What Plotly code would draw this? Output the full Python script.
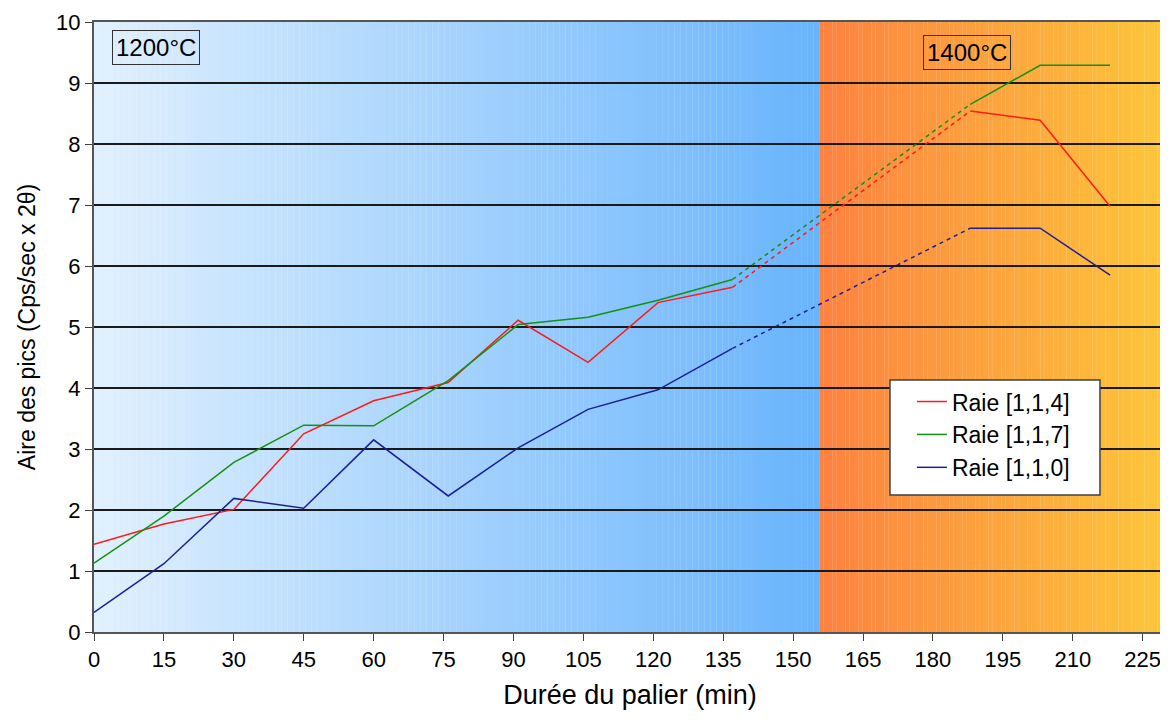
import plotly.graph_objects as go

# Data
x_time = [0, 15, 30, 45, 60, 76, 91, 106, 121, 137, 188, 203, 218]
raie_114 = [1.44, 1.77, 2.01, 3.25, 3.79, 4.09, 5.11, 4.42, 5.40, 5.65, 8.54, 8.39, 6.98]
raie_117 = [1.13, 1.90, 2.78, 3.39, 3.38, 4.12, 5.04, 5.16, 5.44, 5.78, 8.65, 9.29, 9.29]
raie_110 = [0.32, 1.12, 2.19, 2.03, 3.15, 2.23, 3.02, 3.65, 3.97, 4.65, 6.62, 6.62, 5.85]
series_names = ["Raie [1,1,4]", "Raie [1,1,7]", "Raie [1,1,0]"]
series_colors = ["#ff1a1a", "#139113", "#1e1e96"]
x_ticks = list(range(0, 226, 15))
y_ticks = list(range(0, 11))
boundary = 155.6
x_max = 230

fig = go.Figure()

# background gradient shapes
def hex2rgb(h):
    h = h.lstrip('#')
    return [int(h[i:i + 2], 16) for i in (0, 2, 4)]

def grad(x0, x1, c0, c1, n):
    a, b = hex2rgb(c0), hex2rgb(c1)
    shapes = []
    for i in range(n):
        t = i / (n - 1)
        col = "rgb(%d,%d,%d)" % tuple(round(a[k] + (b[k] - a[k]) * t) for k in range(3))
        xa = x0 + (x1 - x0) * i / n
        xb = x0 + (x1 - x0) * (i + 1) / n
        shapes.append(dict(type="rect", xref="x", yref="y", x0=xa, x1=xb + 0.05, y0=0, y1=10,
                           fillcolor=col, line=dict(width=0), layer="below"))
    return shapes

shapes = grad(0, boundary, "#e0f0fe", "#69b4fc", 120) + grad(boundary, x_max, "#fc8240", "#fcc63a", 80)
# legend frame (drawn as a box behind the legend entries)
shapes.append(dict(type="rect", xref="paper", yref="paper", x0=0.7425, x1=0.9384, y0=0.2246, y1=0.413,
                   fillcolor="white", line=dict(color="#404040", width=1.5), layer="above"))

split_a = 9   # index of last 1200°C point
split_b = 10  # index of first 1400°C point
for name, ys, col in zip(series_names, [raie_114, raie_117, raie_110], series_colors):
    fig.add_trace(go.Scatter(x=x_time[:split_a + 1], y=ys[:split_a + 1], mode="lines", name=name,
                             line=dict(color=col, width=1.5), legendgroup=name))
    fig.add_trace(go.Scatter(x=x_time[split_a:split_b + 1], y=ys[split_a:split_b + 1], mode="lines",
                             line=dict(color=col, width=1.5, dash="4px,4px"), legendgroup=name, showlegend=False))
    fig.add_trace(go.Scatter(x=x_time[split_b:], y=ys[split_b:], mode="lines",
                             line=dict(color=col, width=1.5), legendgroup=name, showlegend=False))

font_family = "Liberation Sans, Arial, sans-serif"

# page body has an 8px default margin: compensate in the figure size/margins
fig.update_layout(
    width=1160, height=712,
    margin=dict(l=86, r=2, t=14, b=88),
    paper_bgcolor="white", plot_bgcolor="white",
    font=dict(family=font_family, color="black", size=22),
    shapes=shapes,
    showlegend=True,
    legend=dict(x=0.763, y=0.413, xanchor="left", yanchor="top",
                bgcolor="rgba(0,0,0,0)", borderwidth=0,
                font=dict(size=23, family=font_family), itemwidth=30,
                traceorder="normal", tracegroupgap=2),
    annotations=[
        dict(x=0.0168, y=0.987, xref="paper", yref="paper", xanchor="left", yanchor="top",
             text="1200°C", showarrow=False, font=dict(size=24), bordercolor="#333333",
             borderwidth=1, borderpad=3),
        dict(x=0.773, y=0.979, xref="paper", yref="paper", xanchor="left", yanchor="top",
             text="1400°C", showarrow=False, font=dict(size=24), bordercolor="#333333",
             borderwidth=1, borderpad=3),
    ],
)
fig.update_xaxes(range=[0, x_max], tickvals=x_ticks, ticks="outside", ticklen=7, tickcolor="#404040",
                 showgrid=False, showline=True, linecolor="#555555", linewidth=2, mirror=True,
                 zeroline=False, tickfont=dict(size=22), automargin=False,
                 title=dict(text="Durée du palier (min)", font=dict(size=27), standoff=14))
fig.update_yaxes(range=[0, 10], tickvals=y_ticks, ticks="outside", ticklen=7, tickcolor="#404040",
                 showgrid=True, gridcolor="#1a1a1a", gridwidth=2, showline=True, linecolor="#555555",
                 linewidth=2, mirror=True, zeroline=False, tickfont=dict(size=22), automargin=False,
                 title=dict(text="Aire des pics (Cps/sec x 2θ)", font=dict(size=23), standoff=14))

fig.write_html("out.html")
